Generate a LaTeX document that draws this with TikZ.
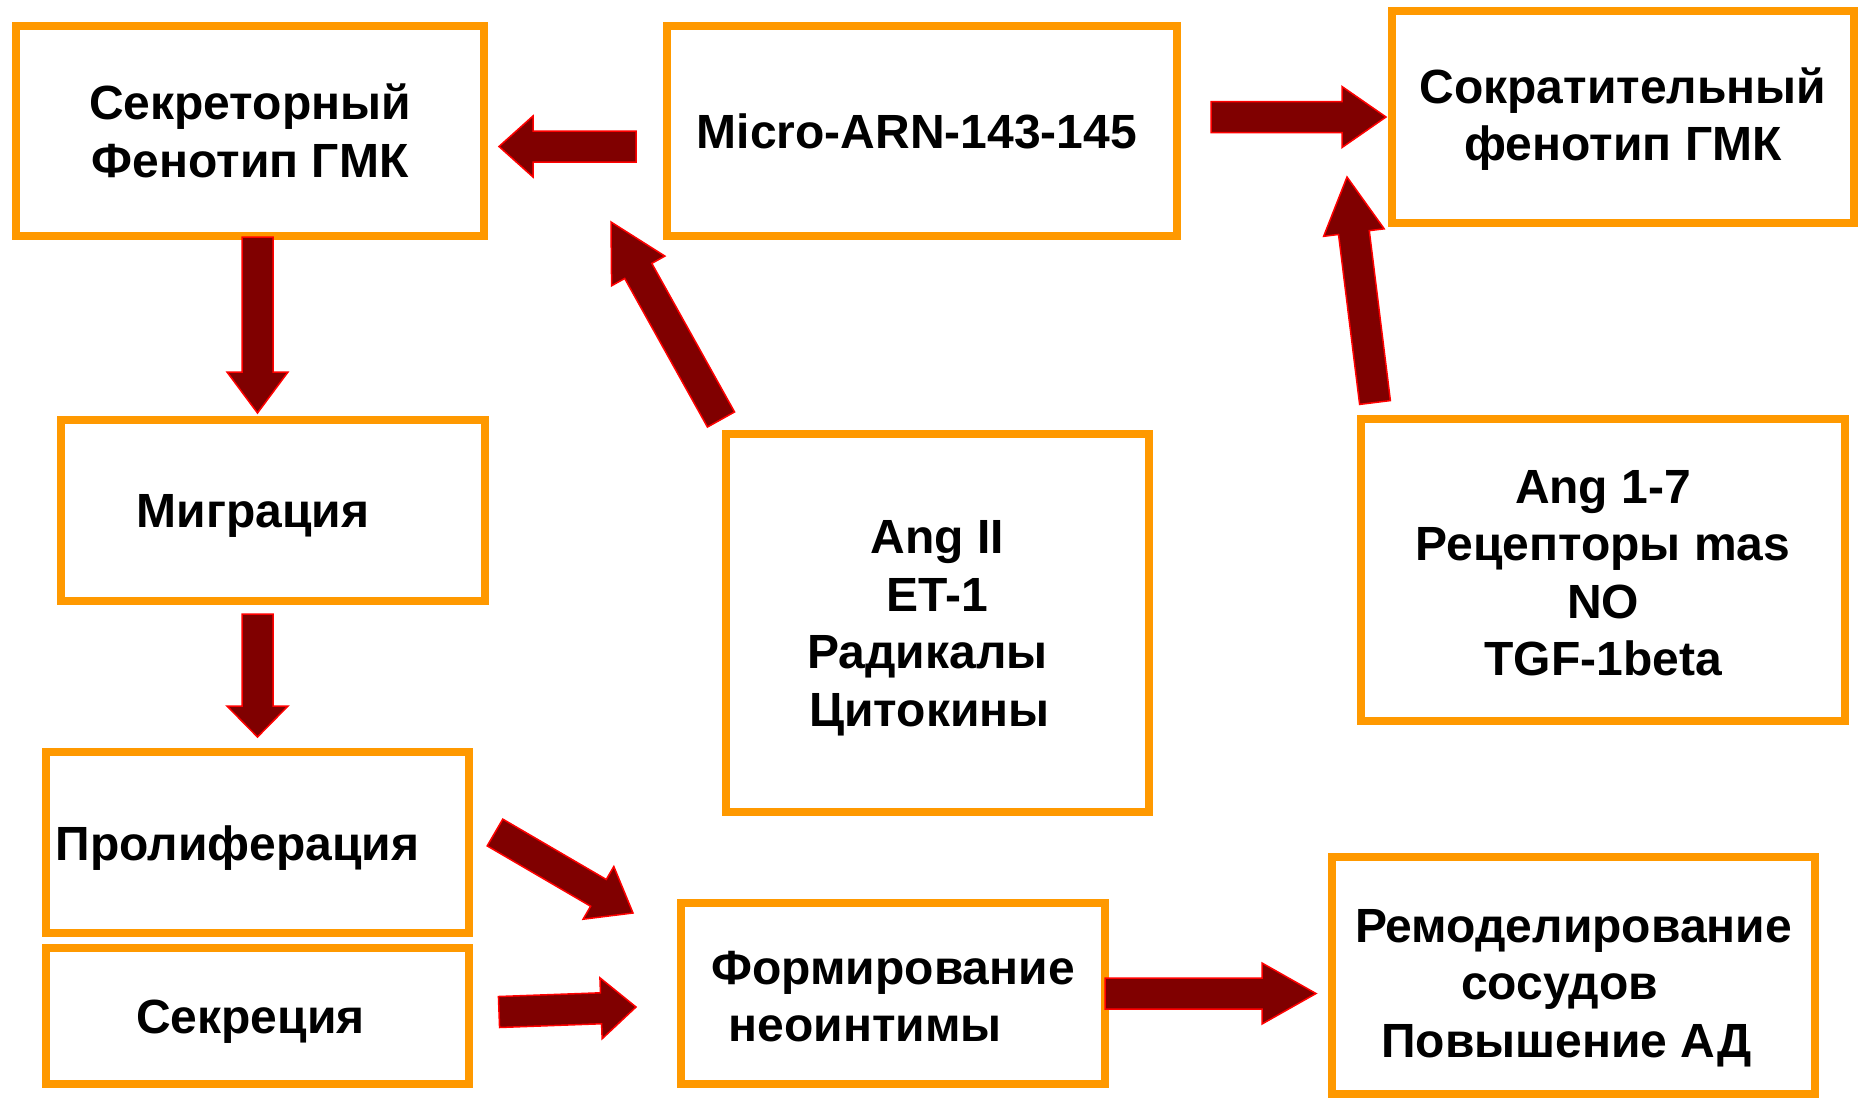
\documentclass[tikz,border=0pt]{standalone}
\usepackage{fontspec}
\setmainfont{Liberation Sans}
\usetikzlibrary{calc}
\definecolor{boxorange}{RGB}{255,153,0}
\definecolor{arrowred}{RGB}{128,0,0}

\newcommand{\blockarrow}[3]{%
\coordinate (ba-h) at ($(#2)!#3pt!(#1)$);
\filldraw[block arrow] ($(#1)!15.5pt!90:(#2)$) -- ($(ba-h)!15.5pt!90:(#2)$) -- ($(ba-h)!30.5pt!90:(#2)$) -- (#2) -- ($(ba-h)!30.5pt!-90:(#2)$) -- ($(ba-h)!15.5pt!-90:(#2)$) -- ($(#1)!15.5pt!-90:(#2)$) -- cycle;}

\begin{document}
\begin{tikzpicture}
[x=1pt, y=-1pt,
box/.style={draw=boxorange, line width=8pt, inner sep=0pt, align=center, font=\bfseries\fontsize{48}{57.5}\selectfont},
one line/.style={text height=35pt, text depth=0pt},
block arrow/.style={fill=arrowred, draw=red, line width=1.5pt, line join=miter}]
\useasboundingbox (0,0) rectangle (1858,1098);
\node[box, minimum width=468pt, minimum height=210pt] (sekretor) at (250,131) {Секреторный\\Фенотип ГМК};
\node[box, one line, minimum width=510pt, minimum height=210pt] (mirna) at (922,131) {Micro-ARN-143-145\rule{10pt}{0pt}};
\node[box, minimum width=462pt, minimum height=212pt] (sokrat) at (1623,117) {\rule{0pt}{40pt}Сократительный\\фенотип ГМК};
\node[box, one line, minimum width=424pt, minimum height=181pt] (migr) at (273,510) {Миграция\rule{40pt}{0pt}};
\node[box, minimum width=423pt, minimum height=378pt] (ang2) at (937.5,623) {\rule{0pt}{44pt}Ang II\\ET-1\\Радикалы\rule{20pt}{0pt}\\Цитокины\rule{16pt}{0pt}};
\node[box, minimum width=484pt, minimum height=302pt] (ang17) at (1603,570) {\rule{0pt}{39pt}Ang 1-7\\Рецепторы mas\\NO\\TGF-1beta};
\node[box, one line, minimum width=423pt, minimum height=181pt] (prolif) at (257.5,842.5) {Пролиферация\rule{40pt}{0pt}};
\node[box, one line, minimum width=423pt, minimum height=136pt] (sekrec) at (257.5,1016) {Секреция\rule{14pt}{0pt}};
\node[box, minimum width=424pt, minimum height=181pt] (neoint) at (893,993.5) {\rule{0pt}{39pt}Формирование\\неоинтимы\rule{56pt}{0pt}};
\node[box, minimum width=483pt, minimum height=237pt] (remod) at (1573.5,975.5) {\rule{0pt}{58pt}Ремоделирование\\сосудов\rule{28pt}{0pt}\\Повышение АД\rule{14pt}{0pt}};
% arrow ends
\coordinate (ms-a) at (636,146.5);
\coordinate (ms-b) at (499,146.5);
\coordinate (mk-a) at (1211,117);
\coordinate (mk-b) at (1386,117);
\coordinate (sm-a) at (257.5,237);
\coordinate (sm-b) at (257.5,413);
\coordinate (mp-a) at (257.5,614);
\coordinate (mp-b) at (257.5,737);
\coordinate (am-a) at (721,419.5);
\coordinate (am-b) at (611,222);
\coordinate (ak-a) at (1375,402.5);
\coordinate (ak-b) at (1347,177);
\coordinate (pn-a) at (495,832.5);
\coordinate (pn-b) at (633,913);
\coordinate (sn-a) at (499,1012);
\coordinate (sn-b) at (636,1007);
\coordinate (nr-a) at (1105,993.5);
\coordinate (nr-b) at (1316,993.5);
\blockarrow{ms-a}{ms-b}{34}
\blockarrow{mk-a}{mk-b}{44}
\blockarrow{sm-a}{sm-b}{41}
\blockarrow{mp-a}{mp-b}{31}
\blockarrow{am-a}{am-b}{56}
\blockarrow{ak-a}{ak-b}{56}
\blockarrow{pn-a}{pn-b}{40}
\blockarrow{sn-a}{sn-b}{35}
\blockarrow{nr-a}{nr-b}{54}
\end{tikzpicture}
\end{document}
